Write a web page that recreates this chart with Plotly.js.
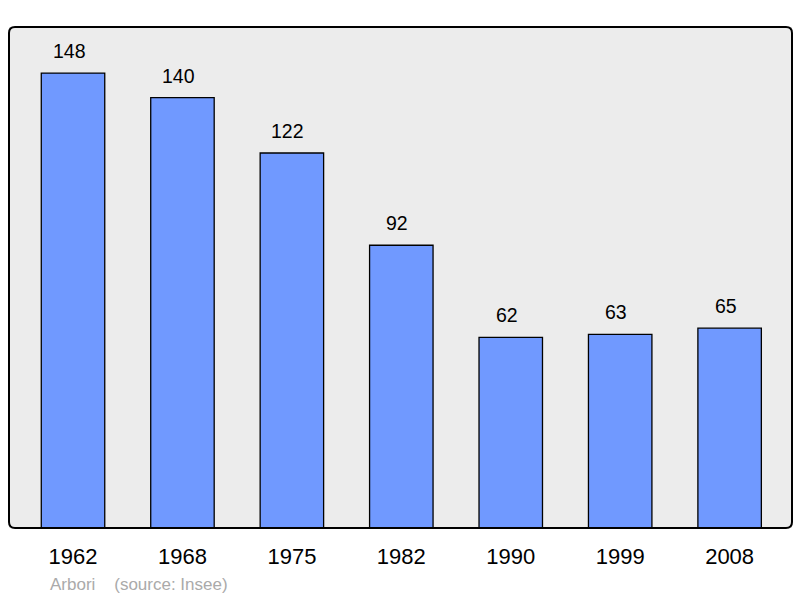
<!DOCTYPE html>
<html><head><meta charset="utf-8">
<script src="https://cdn.plot.ly/plotly-3.0.1.min.js"></script>
<style>body{margin:0;background:#fff}#c{width:800px;height:598px}</style>
</head><body><div id="c"></div>
<script>
const years = ['1962','1968','1975','1982','1990','1999','2008'];
const population = [148,140,122,92,62,63,65];

const trace = {
  type:'bar', x:years, y:population, width:0.58,
  marker:{color:'#7099ff', line:{color:'#000', width:1.3}},
  hoverinfo:'none'
};
const annotations = years.map((yr,i)=>({
  x:i, y:population[i], text:String(population[i]), showarrow:false,
  yshift:22, xshift:-4, font:{family:'Liberation Sans, Arial, sans-serif', size:19.5, color:'#000'}
}));
annotations.push({
  xref:'paper', yref:'paper', x:0.05, y:-0.112, xanchor:'left', yanchor:'middle',
  text:'Arbori&nbsp;&nbsp;&nbsp;&nbsp;(source: Insee)', showarrow:false,
  font:{family:'Liberation Sans, Arial, sans-serif', size:17, color:'#aaaaaa'}
});
const layout = {
  width:800, height:598,
  margin:{l:9, r:8, t:27, b:70},
  paper_bgcolor:'#fff', plot_bgcolor:'#ececec',
  showlegend:false,
  xaxis:{type:'category', range:[-0.585,6.57], showgrid:false, zeroline:false,
    ticks:'', ticklabelstandoff:13, showline:false,
    tickfont:{family:'Liberation Sans, Arial, sans-serif', size:22, color:'#000'}},
  yaxis:{range:[0,163], showgrid:false, zeroline:false, showticklabels:false, showline:false},
  annotations:annotations,
  shapes:[{type:'path', xref:'paper', yref:'paper', layer:'above',
    path:'', line:{color:'#000', width:2}}]
};
(function(){
  const W=800-9-8, H=598-27-70, r=6;
  const rx=r/W, ry=r/H;
  layout.shapes[0].path =
    `M ${rx},0 L ${1-rx},0 Q 1,0 1,${ry} L 1,${1-ry} Q 1,1 ${1-rx},1 L ${rx},1 Q 0,1 0,${1-ry} L 0,${ry} Q 0,0 ${rx},0 Z`;
})();
Plotly.newPlot('c',[trace],layout,{staticPlot:true});
</script></body></html>
